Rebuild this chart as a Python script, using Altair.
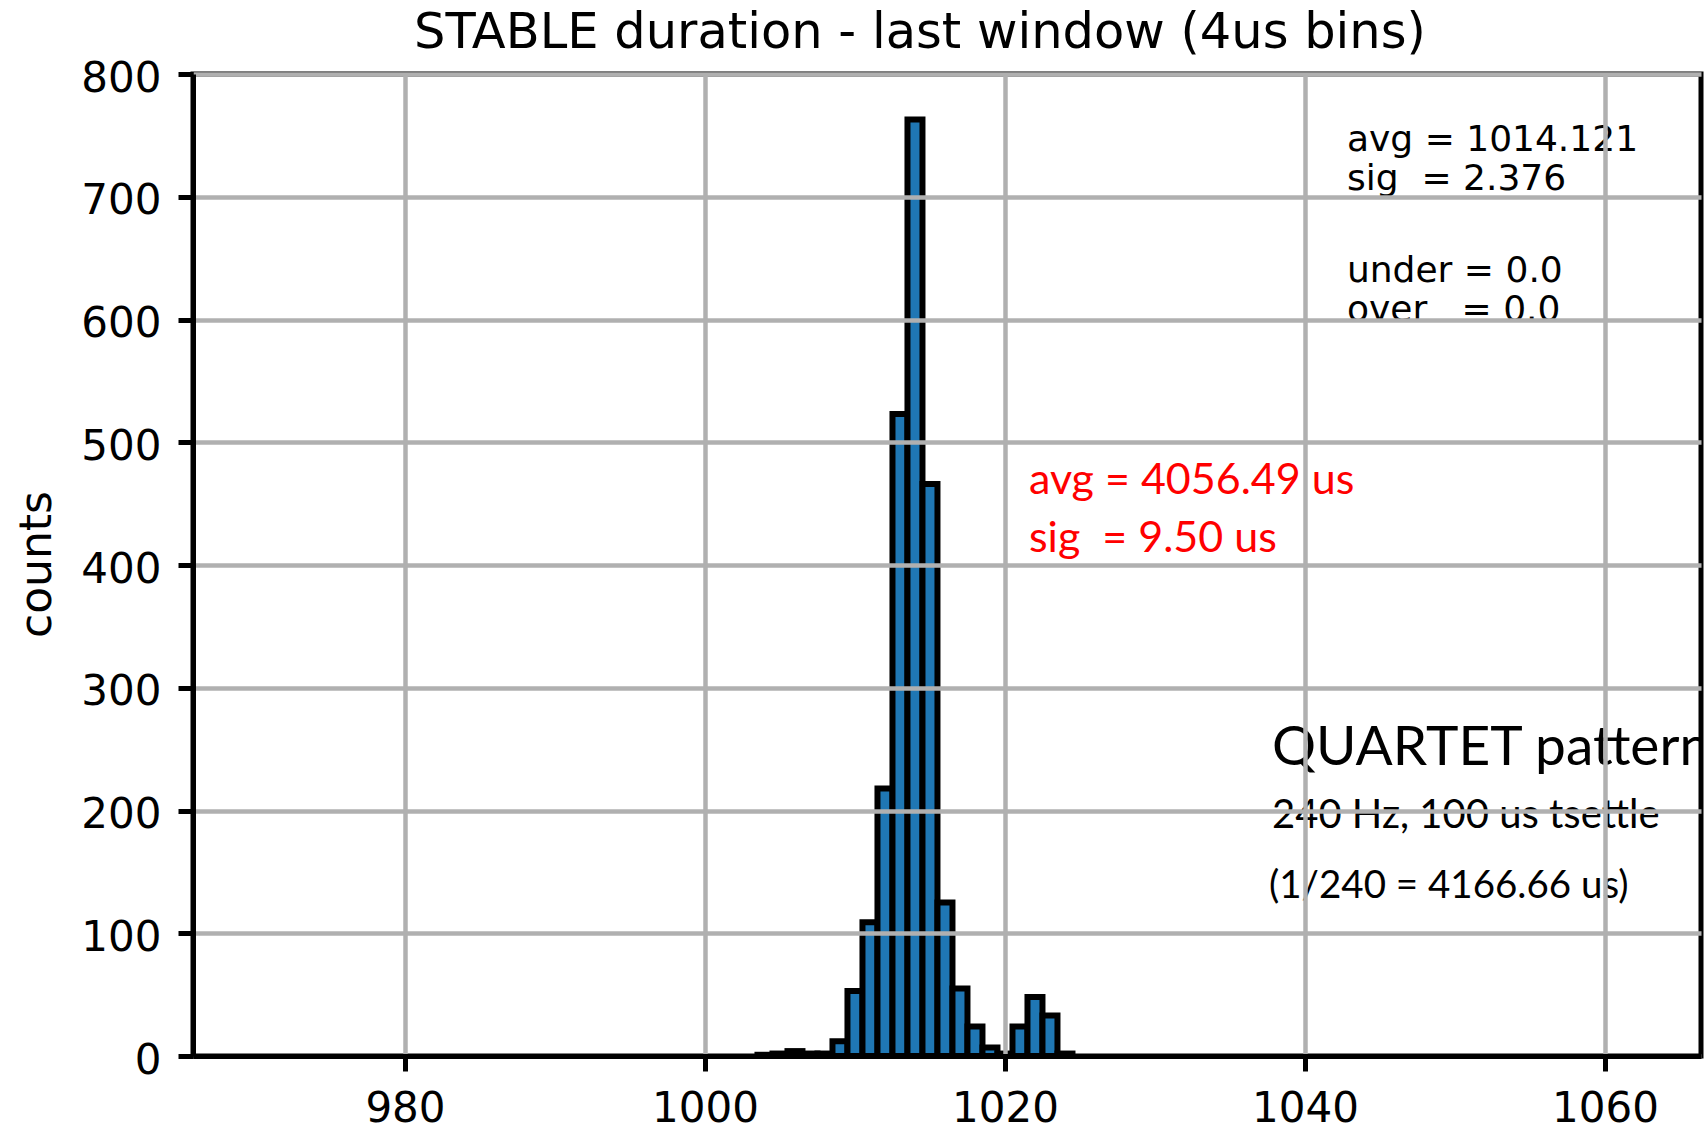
import altair as alt
import pandas as pd

# ---- data ----
bin_centers = [1004, 1005, 1006, 1007, 1008, 1009, 1010, 1011, 1012, 1013, 1014,
               1015, 1016, 1017, 1018, 1019, 1020, 1021, 1022, 1023, 1024]
counts = [1, 2, 4, 2, 2, 12, 53, 109, 218, 523, 763,
          466, 125, 55, 24, 7, 2, 24, 48, 33, 2]
bin_width = 1.0

x_ticks = [980, 1000, 1020, 1040, 1060]
y_ticks = [0, 100, 200, 300, 400, 500, 600, 700, 800]

title_text = ["STABLE duration - last window (4us bins)"]
y_title = "counts"

stats_lines = ["avg = 1014.121", "sig\u00a0\u00a0= 2.376", "under = 0.0", "over\u00a0\u00a0\u00a0= 0.0"]
red_lines = ["avg = 4056.49 us", "sig\u00a0\u00a0= 9.50 us"]
pattern_title = ["QUARTET pattern"]
pattern_line1 = ["240 Hz, 100 us tsettle"]
pattern_line2 = ["(1/240 = 4166.66 us)"]

# ---- annotation anchors (data coordinates) ----
title_x, title_y = 1014.33, [821.5]
stats_x, stats_y = 1042.8, [737.3, 705.5, 630.5, 598.8]
red_x, red_y = 1021.6, [457.8, 410.6]
pat_x, pat_title_y = 1037.8, [237.0]
pat_l1_x, pat_l1_y = 1037.8, [185.7]
pat_l2_x, pat_l2_y = 1037.6, [128.9]

hist = pd.DataFrame({"center": bin_centers, "count": counts})
hist["start"] = hist["center"] - bin_width / 2
hist["end"] = hist["center"] + bin_width / 2

xscale = alt.Scale(domain=[965.87, 1066.4], nice=False, zero=False)
yscale = alt.Scale(domain=[0, 800], nice=False, zero=False)

common_axis = dict(
    grid=True, gridColor="#b0b0b0", gridWidth=4.5,
    domainColor="black", domainWidth=5,
    tickColor="black", tickWidth=5, tickSize=15,
    labelFont="DejaVu Sans", labelFontSize=42, labelColor="black",
    format="d", zindex=1,
)

x_axis = alt.Axis(values=x_ticks, title=None, labelPadding=17, **common_axis)
y_axis = alt.Axis(values=y_ticks, title=y_title, labelPadding=17,
                  labelBaseline="alphabetic", labelOffset=17,
                  titleFont="DejaVu Sans", titleFontSize=44,
                  titleFontWeight="normal", titleColor="black",
                  titleAngle=270, titleX=-143, titleY=490,
                  titleAlign="center", titleBaseline="alphabetic",
                  **common_axis)

bars = alt.Chart(hist).mark_rect(
    color="#1f77b4", stroke="black", strokeWidth=6
).encode(
    x=alt.X("start:Q", scale=xscale, axis=x_axis),
    x2="end:Q",
    y=alt.Y("count:Q", scale=yscale, axis=y_axis),
    y2=alt.datum(0),
)


def text_layer(xs, ys, texts, align="left", **mark_kw):
    if not isinstance(xs, list):
        xs = [xs] * len(texts)
    df = pd.DataFrame({"x": xs, "y": ys, "text": texts})
    return alt.Chart(df).mark_text(align=align, baseline="alphabetic", **mark_kw).encode(
        x=alt.X("x:Q", scale=xscale, axis=x_axis),
        y=alt.Y("y:Q", scale=yscale, axis=y_axis),
        text="text:N",
    )


title = text_layer(title_x, title_y, title_text, align="center", font="DejaVu Sans",
                   fontSize=49.5, color="black")
stats = text_layer(stats_x, stats_y, stats_lines, font="DejaVu Sans", fontSize=36, color="black")
red = text_layer(red_x, red_y, red_lines, font="Lato", fontSize=43, color="#ff0000")
pat_t = text_layer(pat_x, pat_title_y, pattern_title, font="Lato", fontSize=55, color="black", clip=True)
pat_1 = text_layer(pat_l1_x, pat_l1_y, pattern_line1, font="Lato", fontSize=40, color="black")
pat_2 = text_layer(pat_l2_x, pat_l2_y, pattern_line2, font="Lato", fontSize=38.5, color="black")

chart = alt.layer(bars, title, stats, red, pat_t, pat_1, pat_2).properties(
    width=1508,
    height=982,
    autosize=alt.AutoSizeParams(type="none"),
    padding={"left": 193, "top": 74, "right": 5, "bottom": 76},
    background="white",
).configure_view(stroke="black", strokeWidth=5)

chart.save("out.html", embed_options={"renderer": "svg", "actions": False})
